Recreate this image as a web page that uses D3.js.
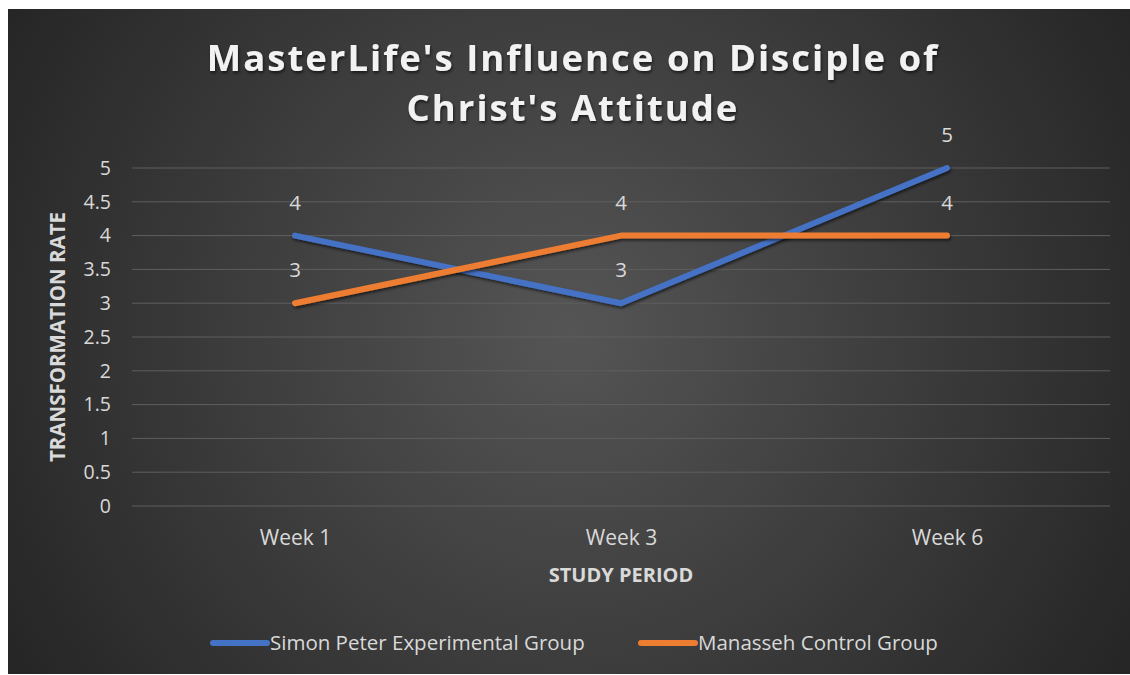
<!DOCTYPE html>
<html>
<head>
<meta charset="utf-8">
<script src="https://cdn.jsdelivr.net/npm/d3@7"></script>
<style>
  body { margin: 0; background: #fff; }
  svg { display: block; }
</style>
</head>
<body>
<div id="chart"></div>
<script>
const categories = ["Week 1", "Week 3", "Week 6"];
const simonPeter = [4, 3, 5];
const manasseh = [3, 4, 4];
const yTicks = [0, 0.5, 1, 1.5, 2, 2.5, 3, 3.5, 4, 4.5, 5];
const seriesNames = ["Simon Peter Experimental Group", "Manasseh Control Group"];
const seriesColors = ["#4472C4", "#ED7D31"];

const width = 1130, height = 675;
const margin = { top: 168, right: 20, bottom: 169, left: 132 };
const font = "'Open Sans', 'Noto Sans', sans-serif";

const svg = d3.select("#chart").append("svg")
    .attr("width", width)
    .attr("height", height);

const defs = svg.append("defs");
const grad = defs.append("radialGradient")
    .attr("id", "bg")
    .attr("gradientUnits", "userSpaceOnUse")
    .attr("cx", 570).attr("cy", 330).attr("r", 640);
grad.append("stop").attr("offset", "0%").attr("stop-color", "#555555");
grad.append("stop").attr("offset", "100%").attr("stop-color", "#262626");

const shadow = defs.append("filter").attr("id", "shadow")
    .attr("x", "-20%").attr("y", "-20%").attr("width", "140%").attr("height", "140%");
shadow.append("feDropShadow")
    .attr("dx", 1).attr("dy", 2).attr("stdDeviation", 1.5)
    .attr("flood-color", "#000").attr("flood-opacity", 0.6);

// background panel
svg.append("rect")
    .attr("x", 8).attr("y", 9)
    .attr("width", width - 8).attr("height", height - 10)
    .attr("fill", "url(#bg)");

const x = d3.scalePoint()
    .domain(categories)
    .range([margin.left, width - margin.right])
    .padding(0.5);

const y = d3.scaleLinear()
    .domain([0, 5])
    .range([height - margin.bottom, margin.top]);

// gridlines
svg.append("g")
    .selectAll("line")
    .data(yTicks)
    .enter().append("line")
    .attr("x1", margin.left)
    .attr("x2", width - margin.right)
    .attr("y1", d => y(d))
    .attr("y2", d => y(d))
    .attr("stroke", "#5f5f5f")
    .attr("stroke-width", 1);

// y axis labels
const yAxis = svg.append("g")
    .attr("transform", "translate(" + (margin.left - 21) + ",0)")
    .call(d3.axisLeft(y).tickValues(yTicks).tickSize(0).tickPadding(0).tickFormat(d3.format("")));
yAxis.select(".domain").remove();
yAxis.selectAll("text")
    .attr("fill", "#d9d9d9")
    .style("font-family", font)
    .style("font-size", "19.5px");

// x axis labels
const xAxis = svg.append("g")
    .attr("transform", "translate(0," + (height - margin.bottom + 24) + ")")
    .call(d3.axisBottom(x).tickSize(0).tickPadding(0));
xAxis.select(".domain").remove();
xAxis.selectAll("text")
    .attr("fill", "#d9d9d9")
    .style("font-family", font)
    .style("font-size", "21px");

// axis titles
svg.append("text")
    .attr("transform", "translate(65," + ((margin.top + height - margin.bottom) / 2) + ") rotate(-90)")
    .attr("text-anchor", "middle")
    .attr("fill", "#d9d9d9")
    .style("font-family", font)
    .style("font-weight", "bold")
    .style("font-size", "20.5px")
    .text("TRANSFORMATION RATE");

svg.append("text")
    .attr("x", (margin.left + width - margin.right) / 2)
    .attr("y", 582)
    .attr("text-anchor", "middle")
    .attr("fill", "#d9d9d9")
    .style("font-family", font)
    .style("font-weight", "bold")
    .style("font-size", "20px")
    .text("STUDY PERIOD");

// title
const title = svg.append("text")
    .attr("text-anchor", "middle")
    .attr("fill", "#f2f2f2")
    .attr("filter", "url(#shadow)")
    .style("font-family", font)
    .style("font-weight", "bold")
    .style("font-size", "36.5px")
    .style("letter-spacing", "2px");
title.append("tspan").attr("x", 573).attr("y", 71).text("MasterLife's Influence on Disciple of");
title.append("tspan").attr("x", 573).attr("y", 121).text("Christ's Attitude");

// lines
const series = [simonPeter, manasseh];
const line = d3.line()
    .x((d, i) => x(categories[i]))
    .y(d => y(d));

svg.append("g")
    .selectAll("path")
    .data(series)
    .enter().append("path")
    .attr("d", d => line(d))
    .attr("fill", "none")
    .attr("stroke", (d, i) => seriesColors[i])
    .attr("stroke-width", 6)
    .attr("stroke-linecap", "round")
    .attr("stroke-linejoin", "round")
    .attr("filter", "url(#shadow)");

// data labels
series.forEach((s, si) => {
    svg.append("g")
        .selectAll("text")
        .data(s)
        .enter().append("text")
        .attr("x", (d, i) => x(categories[i]))
        .attr("y", d => y(d) - 26)
        .attr("text-anchor", "middle")
        .attr("fill", "#d9d9d9")
        .style("font-family", font)
        .style("font-size", "20.5px")
        .text(d => d);
});

// legend
const legendItems = [
    { name: seriesNames[0], color: seriesColors[0], x: 213 },
    { name: seriesNames[1], color: seriesColors[1], x: 641 }
];
const legend = svg.append("g")
    .selectAll("g")
    .data(legendItems)
    .enter().append("g")
    .attr("transform", d => "translate(" + d.x + ",643)");
legend.append("line")
    .attr("x1", 0).attr("x2", 54)
    .attr("stroke", d => d.color)
    .attr("stroke-width", 6)
    .attr("stroke-linecap", "round");
legend.append("text")
    .attr("x", 57)
    .attr("dy", "0.35em")
    .attr("fill", "#d9d9d9")
    .style("font-family", font)
    .style("font-size", "20.5px")
    .text(d => d.name);
</script>
</body>
</html>
